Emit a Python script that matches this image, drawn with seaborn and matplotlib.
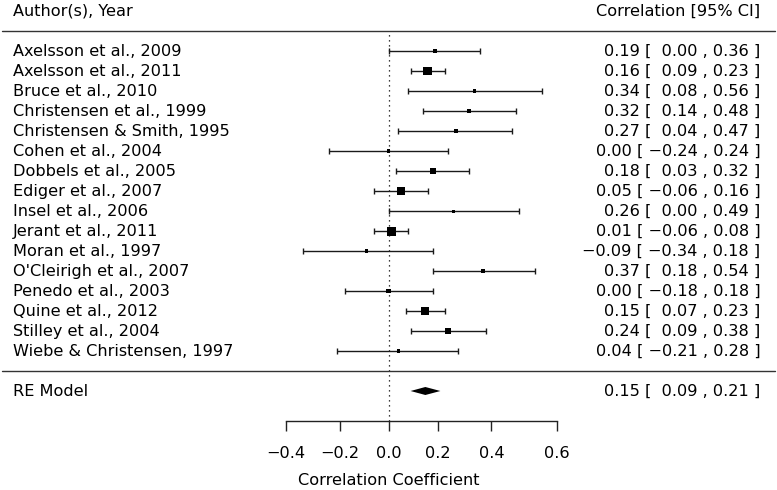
import numpy as np
import seaborn as sns
import matplotlib
matplotlib.use("Agg")
import matplotlib.pyplot as plt
import matplotlib.transforms as mtransforms

# study labels, correlations and 95% CIs
studies = ["Axelsson et al., 2009", "Axelsson et al., 2011", "Bruce et al., 2010",
           "Christensen et al., 1999", "Christensen & Smith, 1995", "Cohen et al., 2004",
           "Dobbels et al., 2005", "Ediger et al., 2007", "Insel et al., 2006",
           "Jerant et al., 2011", "Moran et al., 1997", "O'Cleirigh et al., 2007",
           "Penedo et al., 2003", "Quine et al., 2012", "Stilley et al., 2004",
           "Wiebe & Christensen, 1997"]
est = [0.19, 0.16, 0.34, 0.32, 0.27, 0.00, 0.18, 0.05, 0.26, 0.01, -0.09, 0.37, 0.00, 0.15, 0.24, 0.04]
lower = [0.00, 0.09, 0.08, 0.14, 0.04, -0.24, 0.03, -0.06, 0.00, -0.06, -0.34, 0.18, -0.18, 0.07, 0.09, -0.21]
upper = [0.36, 0.23, 0.56, 0.48, 0.47, 0.24, 0.32, 0.16, 0.49, 0.08, 0.18, 0.54, 0.18, 0.23, 0.38, 0.28]
# relative study weights (%) -> square size
weights = [3.8, 11.5, 2.3, 4.5, 2.8, 2.4, 6.5, 9.3, 1.9, 11.6, 2.0, 3.7, 4.6, 10.4, 6.6, 2.3]

# random-effects summary
re_est, re_lower, re_upper = 0.15, 0.09, 0.21

xticks = [-0.4, -0.2, 0.0, 0.2, 0.4, 0.6]

sns.set_theme(style="white")
plt.rcParams['font.family'] = ['DejaVu Sans']
plt.rcParams['text.color'] = 'black'
plt.rcParams['axes.labelcolor'] = 'black'
plt.rcParams['xtick.color'] = 'black'
fs = 11.6

k = len(studies)
ypos = np.arange(k, 0, -1)

fig = plt.figure(figsize=(7.77, 4.9), dpi=100)
ax = fig.add_axes([0, 0, 1, 1])
# fisher-z scale for the correlation axis
ax.set_xscale('function', functions=(np.arctanh, np.tanh))
px0, pxs = 388.7, 242.5
ax.set_xlim(np.tanh((0 - px0) / pxs), np.tanh((777 - px0) / pxs))
ax.set_ylim(-5.95, 18.55)

# reference line at 0
ax.plot([0, 0], [-2.5, k + 1], color='black', lw=0.9, ls=(0, (1, 3)))

# CIs
est_a = np.array(est)
ax.errorbar(est_a, ypos, xerr=[est_a - np.array(lower), np.array(upper) - est_a],
            fmt='none', ecolor='#1a1a1a', elinewidth=1.0, capsize=2.2, capthick=1.0)

# squares sized by weight
w = np.array(weights)
side_px = 3 + 6 * (w - w.min()) / (w.max() - w.min())
side_pt = side_px * 72 / 100
sns.scatterplot(x=est_a, y=ypos, marker='s', color='black', s=side_pt ** 2,
                linewidth=0, ax=ax, legend=False, zorder=3)

# summary diamond
h = 0.2
ax.fill([re_lower, re_est, re_upper, re_est], [-1, -1 + h, -1, -1 - h],
        color='black', lw=0)

# horizontal rules
trans = mtransforms.blended_transform_factory(ax.transAxes, ax.transData)
for yy in [k + 1, 0]:
    ax.plot([0.003, 0.997], [yy, yy], color='#333333', lw=1.0, transform=trans)


def fmt(v, width=0, dec=2):
    return f"{v:{width}.{dec}f}".replace('-', '\u2212')


# text columns
xl, xr = 12.7 / 777, 760.5 / 777
ax.text(xl, k + 2, "Author(s), Year", transform=trans, ha='left', va='center', fontsize=fs)
ax.text(xr, k + 2, "Correlation [95% CI]", transform=trans, ha='right', va='center', fontsize=fs)
for name, e, lo, hi, y in zip(studies, est, lower, upper, ypos):
    ax.text(xl, y, name, transform=trans, ha='left', va='center', fontsize=fs)
    ax.text(xr, y, f"{fmt(e)} [ {fmt(lo, 5)} , {fmt(hi)} ]", transform=trans,
            ha='right', va='center', fontsize=fs)
ax.text(xl, -1, "RE Model", transform=trans, ha='left', va='center', fontsize=fs)
ax.text(xr, -1, f"{fmt(re_est)} [ {fmt(re_lower, 5)} , {fmt(re_upper)} ]", transform=trans,
        ha='right', va='center', fontsize=fs)

# x axis
for s in ['top', 'left', 'right']:
    ax.spines[s].set_visible(False)
ax.spines['bottom'].set_position(('data', -2.5))
ax.spines['bottom'].set_bounds(xticks[0], xticks[-1])
ax.spines['bottom'].set_color('#222222')
ax.spines['bottom'].set_linewidth(1.0)
ax.set_yticks([])
ax.set_xticks(xticks)
ax.set_xticklabels([fmt(t, dec=1) for t in xticks])
ax.tick_params(axis='x', direction='out', length=7.2, width=1.0, color='#222222',
               labelsize=fs, labelcolor='black', pad=10.5, bottom=True)
ax.set_xlabel("Correlation Coefficient", fontsize=fs, labelpad=9, color='black')
ax.grid(False)

fig.savefig("out.png", dpi=100)
